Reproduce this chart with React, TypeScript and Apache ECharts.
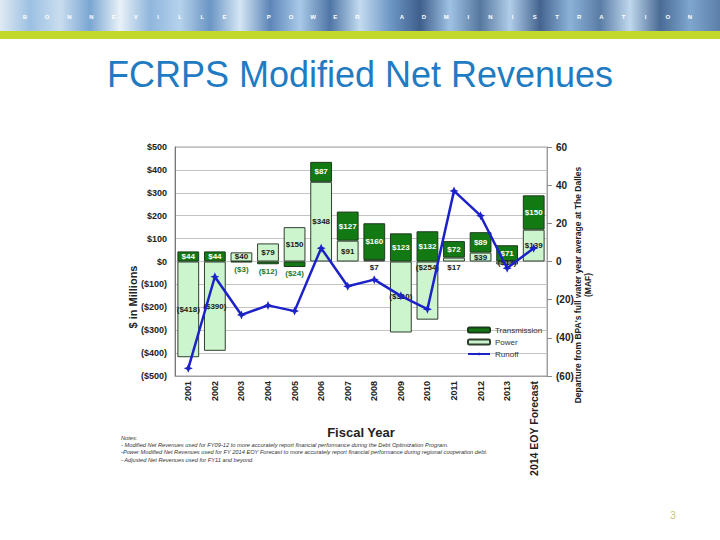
import React, { useEffect, useRef } from "react";
import * as echarts from "echarts";

const categories = [
  "2001", "2002", "2003", "2004", "2005", "2006", "2007",
  "2008", "2009", "2010", "2011", "2012", "2013", "2014 EOY Forecast",
];
const power = [-418, -390, 40, 79, 150, 348, 91, 7, -310, -254, 17, 39, -13, 139];
const transmission = [44, 44, -3, -12, -24, 87, 127, 160, 123, 132, 72, 89, 71, 150];
const runoff = [-56, -8, -28, -23, -26, 7, -13, -9.5, -18, -25, 37, 24, -3.5, 7];

const titleText = "FCRPS Modified Net Revenues";
const headerText = "BONNEVILLE POWER ADMINISTRATION";
const notes = [
  "Notes:",
  "- Modified Net Revenues used for FY09-12 to more accurately report financial performance during the Debt Optimization Program.",
  "-Power Modified Net Revenues used for FY 2014 EOY Forecast to more accurately report financial performance during regional cooperation debt.",
  "- Adjusted Net Revenues used for FY11 and beyond.",
];

const FONT = "'Liberation Sans', Arial, sans-serif";
const money = (v: number) => (v < 0 ? `($${-v})` : `$${v}`);
const paren = (v: number) => (v < 0 ? `(${-v})` : `${v}`);

export default function App() {
  const ref = useRef<HTMLDivElement>(null);
  useEffect(() => {
    document.body.style.margin = "0";
    if (!ref.current) return;
    const chart = echarts.init(ref.current, null, { renderer: "svg" });

    const powerData = power.map((v, i) => {
      let label: any = { position: "inside", color: "#1a1a1a" };
      if (v > 0 && v < 20) label = { position: "bottom", color: "#1a1a1a", distance: 2 };
      if (i === 9) label = { position: "insideTop", color: "#1a1a1a", distance: 2 };
      return { value: v, label };
    });
    const transData = transmission.map((v) => {
      const label: any =
        v < 0
          ? { position: "bottom", color: "#1d7a1d", distance: 3 }
          : { position: "inside", color: "#ffffff" };
      return { value: v, label };
    });

    const streakColors = [
      "#dfeaf4", "#9cc0e2", "#c9ddef", "#7aa6d2", "#e8f1f8", "#8fb6dc", "#b5d2ec",
      "#6b95c4", "#d4e6f4", "#5d86b8", "#a9c9e8", "#4f76a6", "#c3dbf0", "#6e98c6",
      "#3f5f8c", "#9fc2e4", "#56789f", "#b0cde9", "#44648f", "#8cb2d8", "#5a7da6",
      "#c0d8ee", "#4a6b95", "#7ea6cf", "#5c7fa8",
    ];
    const stops = streakColors.map((c, i) => ({ offset: i / (streakColors.length - 1), color: c }));

    const letters: any[] = [];
    const chars = headerText.split("");
    const step = (690 - 25) / (chars.length - 1);
    chars.forEach((ch, i) => {
      if (ch === " ") return;
      letters.push({
        type: "text",
        x: 25 + i * step,
        y: 17,
        style: { text: ch, fill: "#ffffff", font: `bold 6px ${FONT}`, align: "center", verticalAlign: "middle" },
      });
    });

    const option: any = {
      animation: false,
      backgroundColor: "#ffffff",
      textStyle: { fontFamily: FONT },
      grid: {
        left: 175, right: 173, top: 147, bottom: 164,
        show: true, borderColor: "#a0a0a0", borderWidth: 1, backgroundColor: "#ffffff",
      },
      legend: {
        orient: "vertical",
        left: 462, top: 321,
        itemWidth: 22, itemHeight: 5, itemGap: 4,
        textStyle: { fontSize: 8, color: "#333", fontFamily: FONT },
        data: ["Transmission", "Power", "Runoff"],
      },
      xAxis: {
        type: "category",
        data: categories,
        axisLine: { onZero: false, lineStyle: { color: "#a0a0a0" } },
        axisTick: { show: false },
        axisLabel: {
          rotate: 90,
          interval: 0,
          margin: 5,
          fontSize: 9,
          fontWeight: "bold",
          color: "#222",
          fontFamily: FONT,
          formatter: (v: string) => (v.length > 4 ? `{big|${v}}` : v),
          rich: { big: { fontSize: 10.5, fontWeight: "bold", color: "#222", fontFamily: FONT } },
        },
      },
      yAxis: [
        {
          type: "value",
          min: -500, max: 500, interval: 100,
          axisLine: { show: true, lineStyle: { color: "#777" } },
          axisTick: { show: false },
          splitLine: { lineStyle: { color: "#c4c4c4" } },
          axisLabel: { formatter: money, fontSize: 9, fontWeight: "bold", color: "#222", margin: 8, fontFamily: FONT },
        },
        {
          type: "value",
          min: -60, max: 60, interval: 20,
          axisLine: { show: true, lineStyle: { color: "#a0a0a0" } },
          axisTick: { show: true, length: 5, lineStyle: { color: "#888" } },
          splitLine: { show: false },
          axisLabel: { formatter: paren, fontSize: 10, fontWeight: "bold", color: "#222", margin: 9, fontFamily: FONT },
        },
      ],
      series: [
        {
          name: "Power",
          type: "bar",
          stack: "rev",
          barWidth: "82%",
          data: powerData,
          itemStyle: { color: "#cdf5cd", borderColor: "#2f3f2f", borderWidth: 1 },
          label: { show: true, formatter: (p: any) => money(p.value), fontSize: 8, fontWeight: "bold", fontFamily: FONT },
        },
        {
          name: "Transmission",
          type: "bar",
          stack: "rev",
          barWidth: "82%",
          data: transData,
          itemStyle: { color: "#137a13", borderColor: "#1c3a1c", borderWidth: 1 },
          label: { show: true, formatter: (p: any) => money(p.value), fontSize: 8, fontWeight: "bold", fontFamily: FONT },
        },
        {
          name: "Runoff",
          type: "line",
          yAxisIndex: 1,
          data: runoff,
          z: 5,
          symbol: "path://M0,-10 L3,-3 L10,0 L3,3 L0,10 L-3,3 L-10,0 L-3,-3 Z",
          symbolSize: 9,
          lineStyle: { color: "#1c22c8", width: 2.5 },
          itemStyle: { color: "#1c22c8" },
        },
      ],
      graphic: [
        {
          type: "rect",
          shape: { x: 0, y: 0, width: 720, height: 31 },
          style: { fill: new echarts.graphic.LinearGradient(0, 0, 1, 0, stops) },
          silent: true,
        },
        {
          type: "rect",
          shape: { x: 0, y: 31, width: 720, height: 8 },
          style: { fill: "#c3d82c" },
          silent: true,
        },
        ...letters,
        {
          type: "text",
          x: 360, y: 74,
          style: { text: titleText, fill: "#1f7cc2", font: `36px ${FONT}`, align: "center", verticalAlign: "middle" },
        },
        {
          type: "text",
          x: 133, y: 297, rotation: Math.PI / 2,
          style: { text: "$ in Millions", fill: "#222", font: `bold 11px ${FONT}`, align: "center", verticalAlign: "middle" },
        },
        {
          type: "text",
          x: 583, y: 285, rotation: Math.PI / 2,
          style: {
            text: "Departure from BPA's full water year average at The Dalles\n(MAF)",
            fill: "#222", font: `bold 8.5px ${FONT}`, align: "center", verticalAlign: "middle", lineHeight: 10,
          },
        },
        {
          type: "text",
          x: 361, y: 432,
          style: { text: "Fiscal Year", fill: "#222", font: `bold 13px ${FONT}`, align: "center", verticalAlign: "middle" },
        },
        {
          type: "text",
          x: 121, y: 434,
          style: {
            text: notes.join("\n"),
            fill: "#333", font: `italic 5.7px ${FONT}`, align: "left", verticalAlign: "top", lineHeight: 7.3,
          },
        },
        {
          type: "text",
          x: 673, y: 515,
          style: { text: "3", fill: "#c9c46a", font: `10px ${FONT}`, align: "center", verticalAlign: "middle" },
        },
      ],
    };
    chart.setOption(option);
    return () => chart.dispose();
  }, []);
  return <div ref={ref} style={{ width: 720, height: 540 }} />;
}
